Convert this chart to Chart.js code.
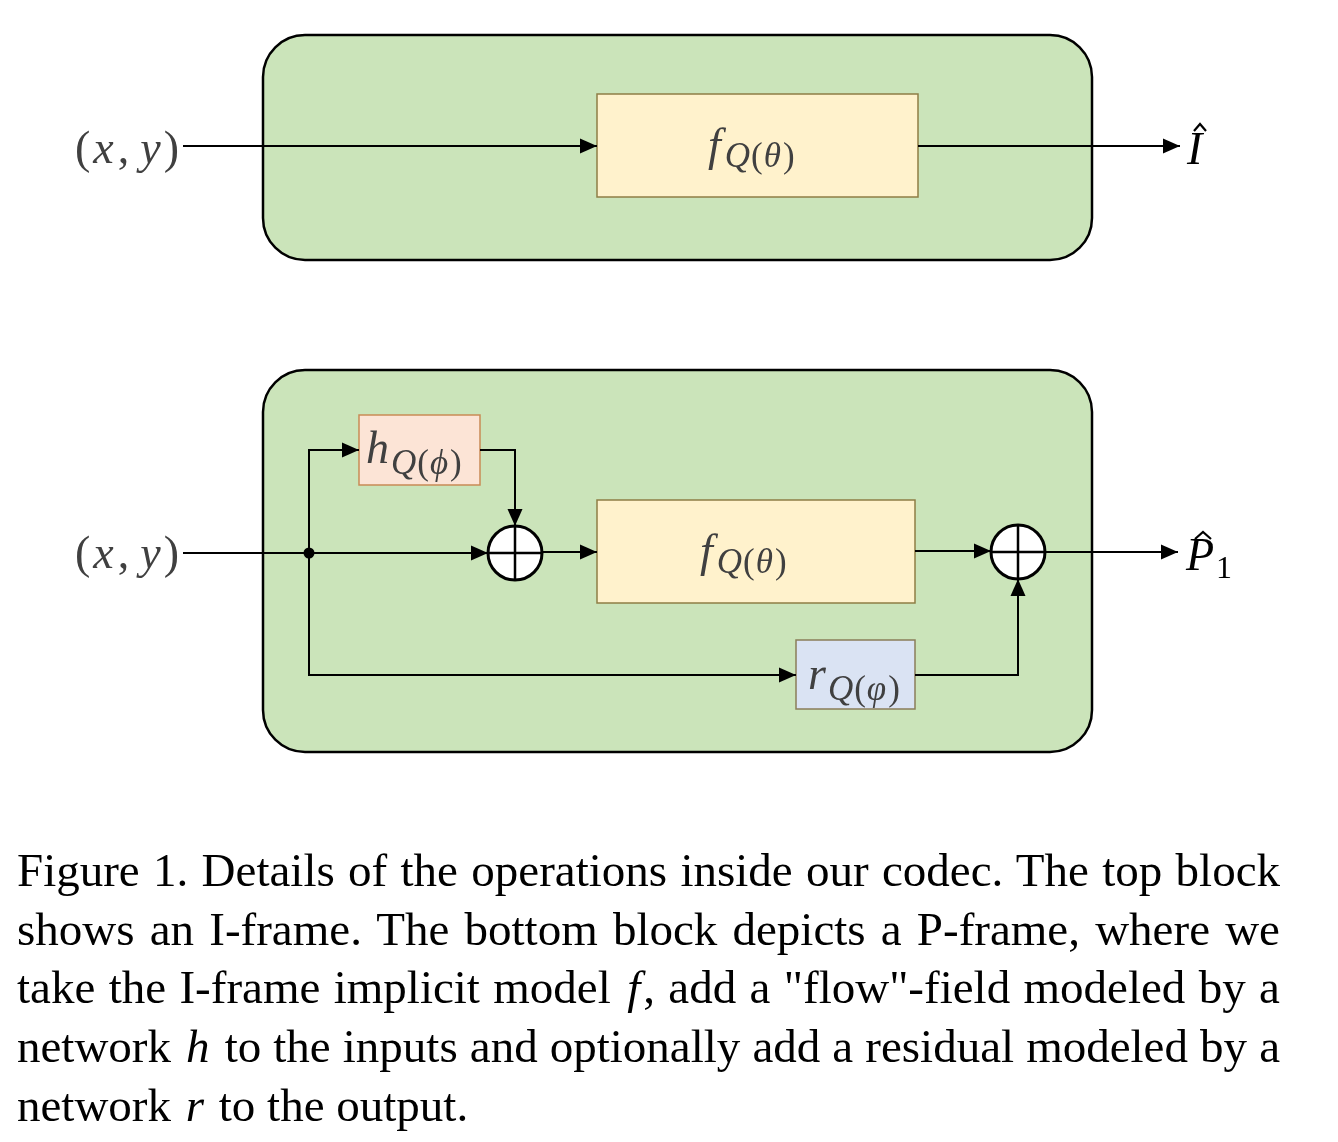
<!DOCTYPE html>
<html>
<head>
<meta charset="utf-8">
<script src="https://cdn.jsdelivr.net/npm/chart.js@4.4.1/dist/chart.umd.min.js"></script>
<style>
    html, body { margin: 0; padding: 0; background: #fff; }
    #wrap { position: relative; width: 1338px; height: 1142px; overflow: hidden; }
    #diagram { position: absolute; left: 0; top: 0; }
    #caption {
        position: absolute; left: 17px; top: 841px; width: 1263px;
        font-family: "Liberation Serif", "Times New Roman", serif;
        font-size: 47px; line-height: 58.7px; color: #000;
    }
    #caption div { text-align: justify; text-align-last: justify; }
    #caption div.last { text-align: left; text-align-last: left; }
    #caption i { padding: 0 3px; }
</style>
</head>
<body>
<div id="wrap">
    <canvas id="diagram" width="1338" height="1142"></canvas>
    <div id="caption">
        <div>Figure 1. Details of the operations inside our codec. The top block</div>
        <div>shows an I-frame. The bottom block depicts a P-frame, where we</div>
        <div>take the I-frame implicit model <i>f</i>, add a "flow"-field modeled by a</div>
        <div>network <i>h</i> to the inputs and optionally add a residual modeled by a</div>
        <div class="last">network <i>r</i> to the output.</div>
    </div>
</div>
<script>
( function () {
    'use strict';

    /* ── Діаграма в координатах сторінки (x вправо, y вниз) ── */
    var X_MAX = 1338;
    var Y_MAX = 1142;

    // зелені блоки: I-frame, P-frame  [x1, y1, x2, y2]
    var blockRects = [ [ 263, 35, 1092, 260 ], [ 263, 370, 1092, 752 ] ];

    // мережі f (I), f (P), h, r
    var moduleRects  = [ [ 597, 94, 918, 197 ], [ 597, 500, 915, 603 ], [ 359, 415, 480, 485 ], [ 796, 640, 915, 709 ] ];
    var moduleKinds  = [ 'f', 'f', 'h', 'r' ];
    var moduleMain   = [ 'f', 'f', 'h', 'r' ];
    var moduleSym    = [ 'θ', 'θ', 'ϕ', 'φ' ];
    var moduleAnchor = [ [ 708, 160 ], [ 700, 566 ], [ 366, 463 ], [ 808, 689 ] ];

    // з'єднання (ламані, закінчуються стрілкою)
    var connectors = [
        [ [ 183, 146 ], [ 597, 146 ] ],
        [ [ 918, 146 ], [ 1180, 146 ] ],
        [ [ 183, 553 ], [ 488, 553 ] ],
        [ [ 309, 553 ], [ 309, 450 ], [ 359, 450 ] ],
        [ [ 309, 553 ], [ 309, 675 ], [ 796, 675 ] ],
        [ [ 480, 450 ], [ 515, 450 ], [ 515, 526 ] ],
        [ [ 542, 552 ], [ 597, 552 ] ],
        [ [ 915, 551 ], [ 991, 551 ] ],
        [ [ 1045, 552 ], [ 1178, 552 ] ],
        [ [ 915, 675 ], [ 1018, 675 ], [ 1018, 579 ] ]
    ];

    var sumNodes  = [ [ 515, 553 ], [ 1018, 552 ] ];
    var junctions = [ [ 309, 553 ] ];

    // входи / виходи
    var inputAnchors = [ [ 75, 163 ], [ 75, 568 ] ];
    var outputText   = [ 'I', 'P' ];
    var outputSub    = [ '', '1' ];
    var outputAnchor = [ [ 1187, 164 ], [ 1186, 570 ] ];

    /* ── Стилі ── */
    var BLOCK_FILL  = '#cbe4ba';
    var MOD_FILL    = { f: '#fff2cc', h: '#fce4d6', r: '#dae3f3' };
    var MOD_STROKE  = { f: '#8f7d45', h: '#c98a55', r: '#8a7d5a' };
    var LABEL_COLOR = '#404040';
    var SERIF       = '"Liberation Serif", "Times New Roman", serif';

    function toPts( arr ) {
        return arr.map( function ( p ) { return { x: p[ 0 ], y: p[ 1 ] }; } );
    }

    function font( size, italic ) {
        return ( italic ? 'italic ' : '' ) + size + 'px ' + SERIF;
    }

    // послідовність шматків тексту [текст, курсив, розмір, зсув по y, додатковий відступ]
    function drawRuns( ctx, x, y, runs, color ) {
        ctx.fillStyle = color;
        ctx.textBaseline = 'alphabetic';
        ctx.textAlign = 'left';
        runs.forEach( function ( r ) {
            ctx.font = font( r[ 2 ], r[ 1 ] );
            ctx.fillText( r[ 0 ], x, y + r[ 3 ] );
            x += ctx.measureText( r[ 0 ] ).width + ( r[ 4 ] || 0 );
        } );
    }

    function hat( ctx, cx, top, half ) {
        ctx.beginPath();
        ctx.moveTo( cx - half, top + 7 );
        ctx.lineTo( cx, top );
        ctx.lineTo( cx + half, top + 7 );
        ctx.lineWidth = 2.2;
        ctx.strokeStyle = '#000';
        ctx.stroke();
    }

    /* ── Плагін: блоки, стрілки, підписи ── */
    var diagramPlugin = {
        id: 'diagram',
        beforeDatasetsDraw: function ( chart ) {
            var ctx = chart.ctx, xs = chart.scales.x, ys = chart.scales.y;
            ctx.save();
            blockRects.forEach( function ( r ) {
                var x1 = xs.getPixelForValue( r[ 0 ] ), y1 = ys.getPixelForValue( r[ 1 ] );
                var x2 = xs.getPixelForValue( r[ 2 ] ), y2 = ys.getPixelForValue( r[ 3 ] );
                ctx.beginPath();
                ctx.roundRect( x1, y1, x2 - x1, y2 - y1, 42 );
                ctx.fillStyle = BLOCK_FILL;
                ctx.fill();
                ctx.lineWidth = 2.5;
                ctx.strokeStyle = '#000';
                ctx.stroke();
            } );
            moduleRects.forEach( function ( r, i ) {
                var k = moduleKinds[ i ];
                var x1 = xs.getPixelForValue( r[ 0 ] ), y1 = ys.getPixelForValue( r[ 1 ] );
                var x2 = xs.getPixelForValue( r[ 2 ] ), y2 = ys.getPixelForValue( r[ 3 ] );
                ctx.fillStyle = MOD_FILL[ k ];
                ctx.fillRect( x1, y1, x2 - x1, y2 - y1 );
                ctx.lineWidth = 1.5;
                ctx.strokeStyle = MOD_STROKE[ k ];
                ctx.strokeRect( x1, y1, x2 - x1, y2 - y1 );
            } );
            ctx.restore();
        },
        afterDatasetsDraw: function ( chart ) {
            var ctx = chart.ctx, xs = chart.scales.x, ys = chart.scales.y;
            ctx.save();
            // вістря стрілок
            connectors.forEach( function ( c ) {
                var a = c[ c.length - 2 ], b = c[ c.length - 1 ];
                var ax = xs.getPixelForValue( a[ 0 ] ), ay = ys.getPixelForValue( a[ 1 ] );
                var bx = xs.getPixelForValue( b[ 0 ] ), by = ys.getPixelForValue( b[ 1 ] );
                var ang = Math.atan2( by - ay, bx - ax );
                ctx.save();
                ctx.translate( bx, by );
                ctx.rotate( ang );
                ctx.beginPath();
                ctx.moveTo( 0, 0 );
                ctx.lineTo( -17, -7.5 );
                ctx.lineTo( -17, 7.5 );
                ctx.closePath();
                ctx.fillStyle = '#000';
                ctx.fill();
                ctx.restore();
            } );

            // підписи мереж: main_{Q(sym)}
            moduleMain.forEach( function ( m, i ) {
                var p = moduleAnchor[ i ];
                var dy = m === 'f' ? 7 : 11;
                drawRuns( ctx, xs.getPixelForValue( p[ 0 ] ), ys.getPixelForValue( p[ 1 ] ), [
                    [ m, true, 46, 0, m === 'f' ? 4 : 2 ],
                    [ 'Q', true, 35, dy, 1 ],
                    [ '(', false, 35, dy, 1 ],
                    [ moduleSym[ i ], true, 35, dy, 2 ],
                    [ ')', false, 35, dy ]
                ], LABEL_COLOR );
            } );

            // входи (x, y)
            inputAnchors.forEach( function ( p ) {
                drawRuns( ctx, xs.getPixelForValue( p[ 0 ] ), ys.getPixelForValue( p[ 1 ] ), [
                    [ '(', false, 46, 0, 3 ],
                    [ 'x', true, 46, 0, 4 ],
                    [ ',', false, 46, 0, 11 ],
                    [ 'y', true, 46, 0, 3 ],
                    [ ')', false, 46, 0 ]
                ], LABEL_COLOR );
            } );

            // виходи Î, P̂₁
            outputText.forEach( function ( t, i ) {
                var p = outputAnchor[ i ];
                var x = xs.getPixelForValue( p[ 0 ] ), y = ys.getPixelForValue( p[ 1 ] );
                var runs = [ [ t, true, 46, 0, 2 ] ];
                if ( outputSub[ i ] ) runs.push( [ outputSub[ i ], false, 32, 8 ] );
                drawRuns( ctx, x, y, runs, '#000' );
                if ( t === 'I' ) hat( ctx, x + 13, y - 40, 6 );
                else hat( ctx, x + 17, y - 38, 8 );
            } );
            ctx.restore();
        }
    };

    /* ── Набори даних ── */
    var datasets = connectors.map( function ( c ) {
        return {
            data: toPts( c ),
            showLine: true,
            borderColor: '#000',
            borderWidth: 2,
            pointRadius: 0,
            fill: false,
            tension: 0,
            order: 5
        };
    } );
    datasets.push( {
        data: toPts( sumNodes ),
        pointStyle: 'circle',
        pointRadius: 27,
        backgroundColor: '#fff',
        borderColor: '#000',
        borderWidth: 3,
        order: 3
    } );
    datasets.push( {
        data: toPts( sumNodes ),
        pointStyle: 'cross',
        pointRadius: 27,
        borderColor: '#000',
        borderWidth: 2.5,
        order: 2
    } );
    datasets.push( {
        data: toPts( junctions ),
        pointStyle: 'circle',
        pointRadius: 5.5,
        backgroundColor: '#000',
        borderColor: '#000',
        borderWidth: 0,
        order: 1
    } );

    new Chart( document.getElementById( 'diagram' ), {
        type: 'scatter',
        data: { datasets: datasets },
        options: {
            responsive: false,
            animation: false,
            events: [],
            layout: { padding: 0, autoPadding: false },
            plugins: { legend: { display: false }, tooltip: { enabled: false } },
            scales: {
                x: { type: 'linear', min: 0, max: X_MAX, display: false },
                y: { type: 'linear', min: 0, max: Y_MAX, reverse: true, display: false }
            }
        },
        plugins: [ diagramPlugin ]
    } );
}() );
</script>
</body>
</html>
